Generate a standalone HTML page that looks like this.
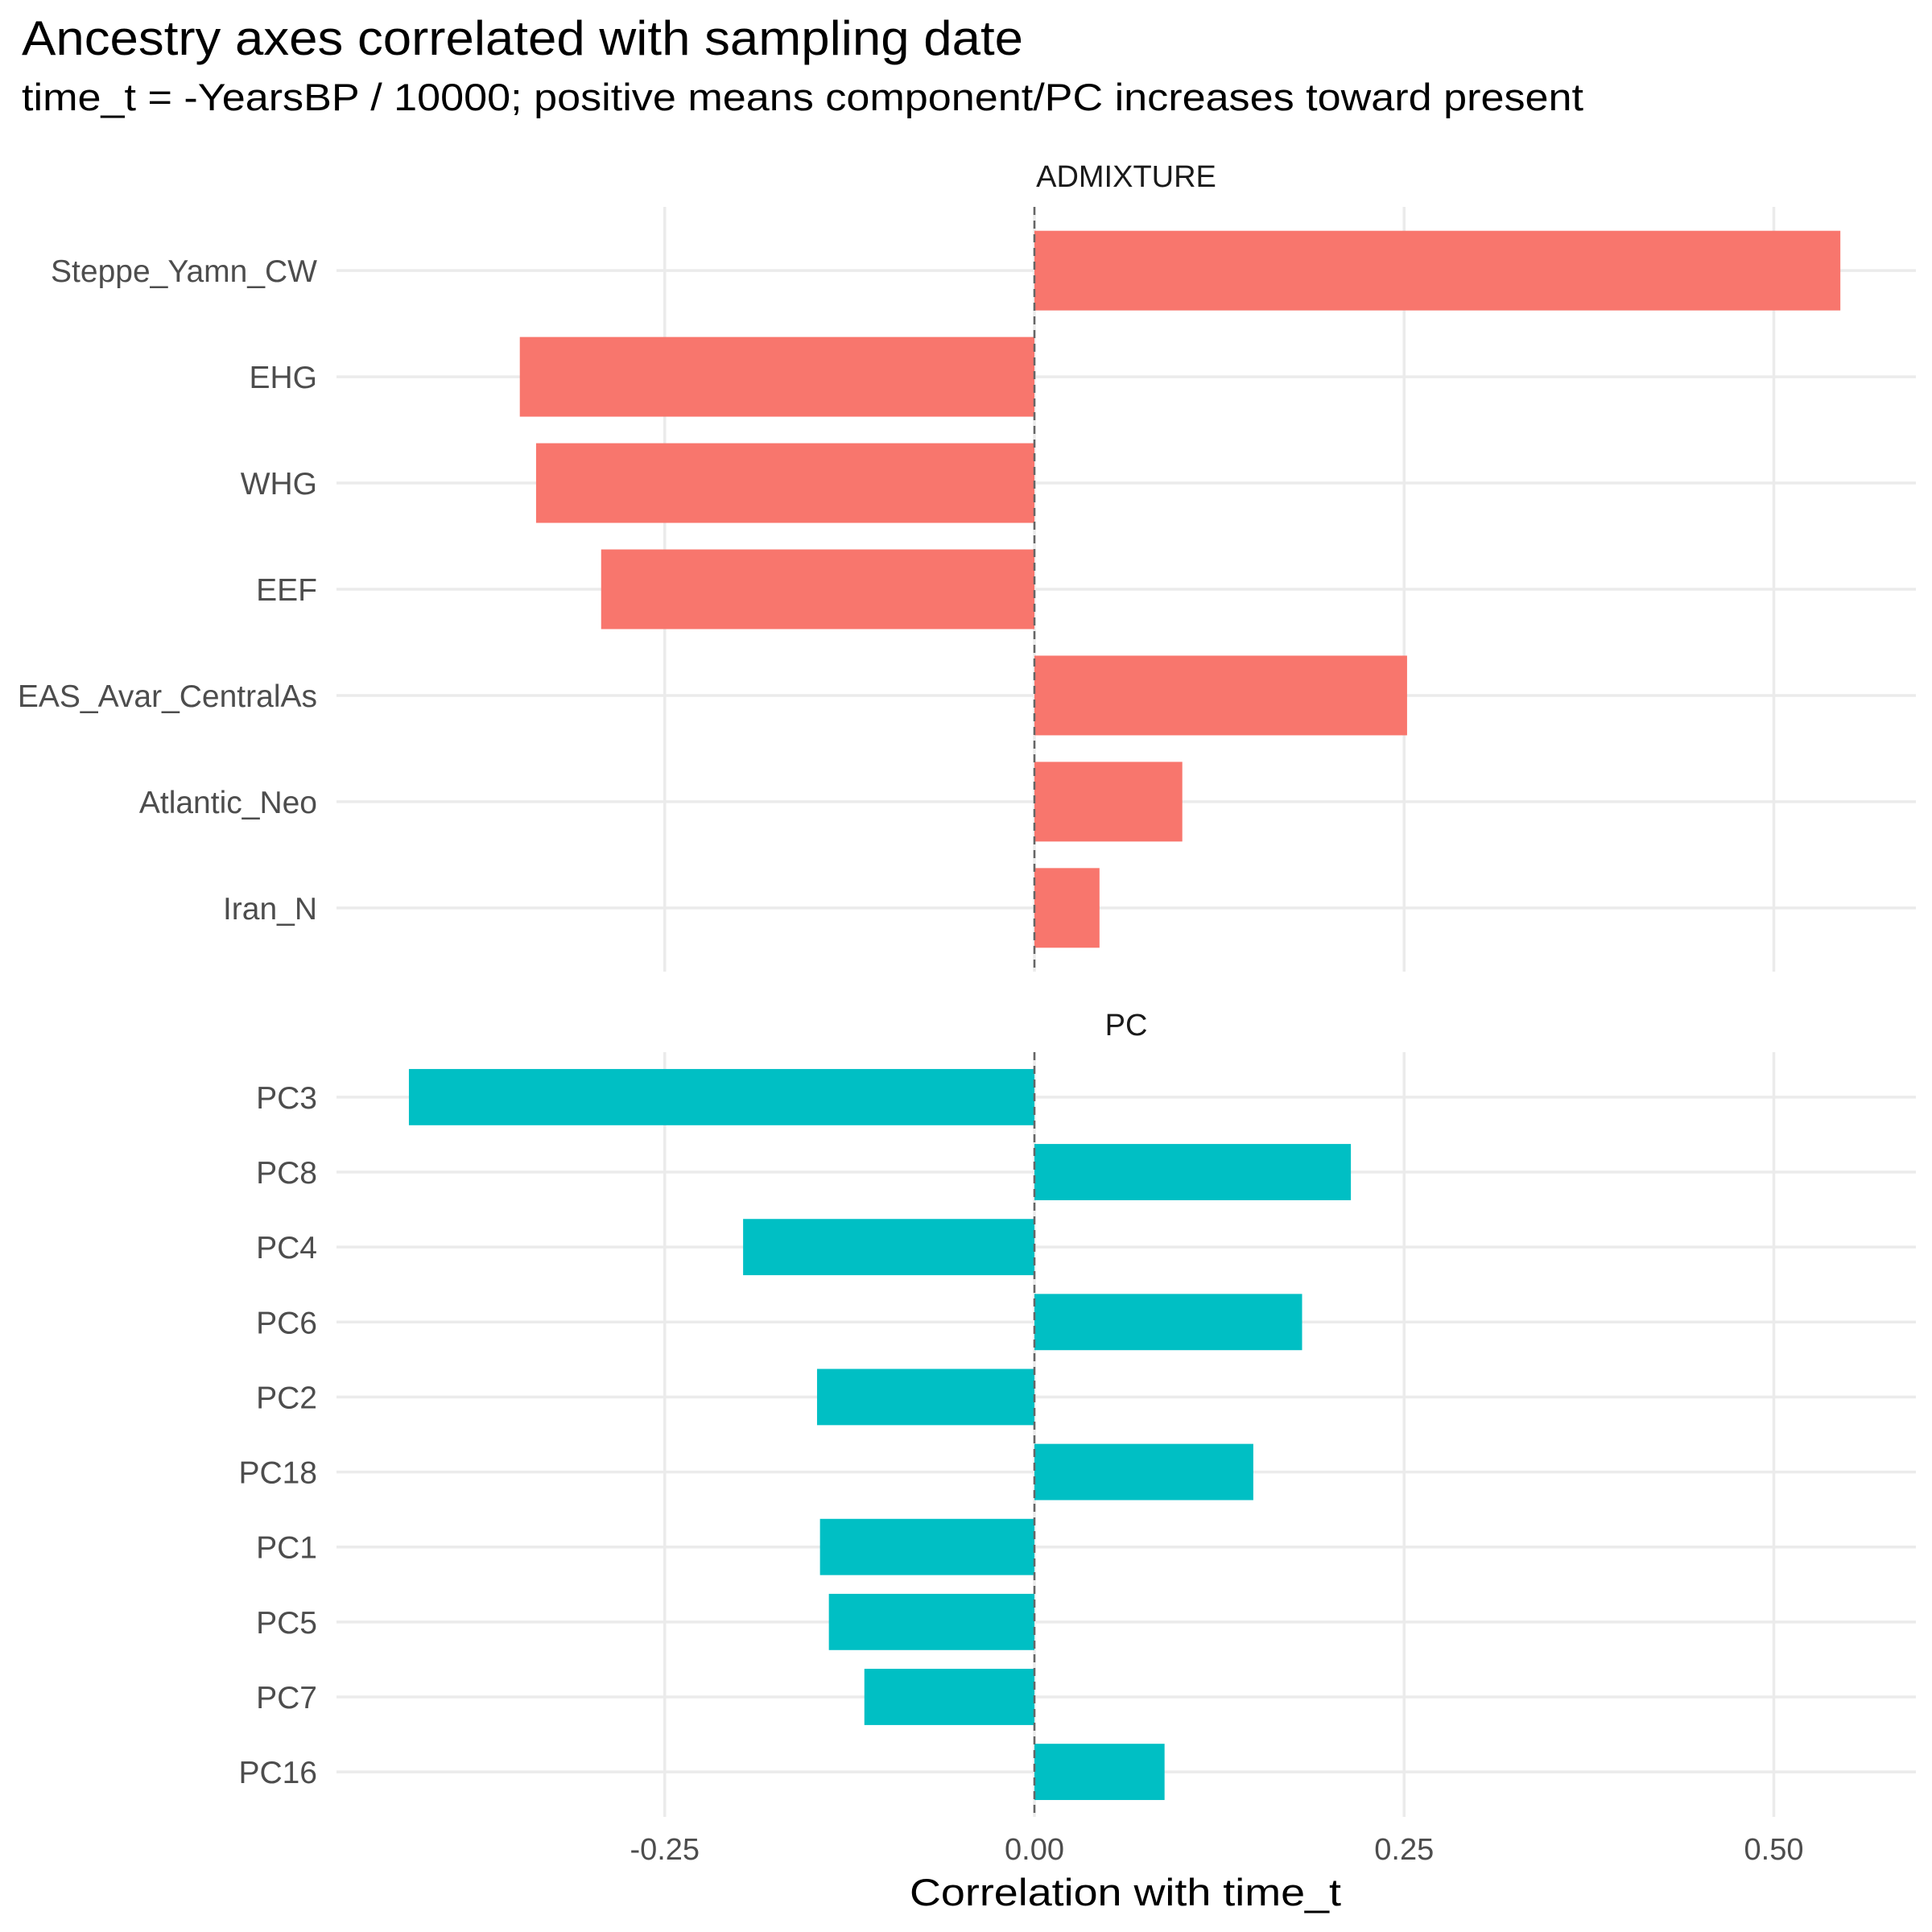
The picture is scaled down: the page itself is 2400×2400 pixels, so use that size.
<!DOCTYPE html>
<html><head><meta charset="utf-8"><style>
html,body{margin:0;padding:0;background:#fff;}
svg{display:block;font-family:"Liberation Sans",sans-serif;}
</style></head><body>
<svg id="chart" width="2400" height="2400" viewBox="0 0 2400 2400">
<text x="27" y="68" font-size="60" fill="#000" textLength="1244" lengthAdjust="spacingAndGlyphs">Ancestry axes correlated with sampling date</text>
<text x="27" y="137" font-size="47" fill="#000" textLength="1940" lengthAdjust="spacingAndGlyphs">time_t = -YearsBP / 10000; positive means component/PC increases toward present</text>
<g id="plot"></g>
<text x="1398" y="2367" font-size="47" fill="#000" text-anchor="middle" textLength="536" lengthAdjust="spacingAndGlyphs">Correlation with time_t</text>
</svg>
<script>
const admixCats = ["Steppe_Yamn_CW","EHG","WHG","EEF","EAS_Avar_CentralAs","Atlantic_Neo","Iran_N"];
const admixVals = [0.545,-0.348,-0.337,-0.293,0.252,0.100,0.044];
const pcCats = ["PC3","PC8","PC4","PC6","PC2","PC18","PC1","PC5","PC7","PC16"];
const pcVals = [-0.423,0.214,-0.197,0.181,-0.147,0.148,-0.145,-0.139,-0.115,0.088];
const xTicks = [-0.25,0,0.25,0.5];
const xTickLabels = ["-0.25","0.00","0.25","0.50"];
const panelNames = ["ADMIXTURE","PC"];

const NS="http://www.w3.org/2000/svg";
const g=document.getElementById('plot');
const X0=418, X1=2380;
function xs(v){return 1285+v*1837;}
function mk(tag,attrs){const e=document.createElementNS(NS,tag);for(const k in attrs)e.setAttribute(k,attrs[k]);g.appendChild(e);return e;}

function panel(cats,vals,top,bottom,color,stripName,stripY,pname){
  const n=cats.length;
  const step=(bottom-top)/(n-1+1.2);
  const ys=i=>top+step*(0.6+i);
  for(let i=0;i<xTicks.length;i++){
    const l=mk('line',{x1:xs(xTicks[i]),x2:xs(xTicks[i]),y1:top,y2:bottom,stroke:'#ebebeb','stroke-width':3.5});
    
    
  }
  for(let i=0;i<n;i++){
    const l=mk('line',{x1:X0,x2:X1,y1:ys(i),y2:ys(i),stroke:'#ebebeb','stroke-width':3.5});
    
    
  }
  const bh=step*0.75;
  for(let i=0;i<n;i++){
    const v=vals[i];
    const a=xs(Math.min(0,v)), b=xs(Math.max(0,v));
    const r=mk('rect',{x:a,y:ys(i)-bh/2,width:b-a,height:bh,fill:color});
    
    
    const t=mk('text',{x:394,y:ys(i)+14,'font-size':39,fill:'#4d4d4d','text-anchor':'end'});
    t.textContent=cats[i];
    
    
  }
  const z=mk('line',{x1:xs(0),x2:xs(0),y1:top,y2:bottom,stroke:'#666','stroke-width':2.5,'stroke-dasharray':'10,7'});
  
  
  const s=mk('text',{x:(X0+X1)/2,y:stripY,'font-size':38,fill:'#1a1a1a','text-anchor':'middle'});
  s.textContent=stripName;
  
  
}
panel(admixCats,admixVals,257,1207,'#F8766D',panelNames[0],232,'admixture');
panel(pcCats,pcVals,1307,2257,'#00BFC4',panelNames[1],1286,'pc');
for(let i=0;i<xTicks.length;i++){
  const t=mk('text',{x:xs(xTicks[i]),y:2310,'font-size':38,fill:'#4d4d4d','text-anchor':'middle'});
  t.textContent=xTickLabels[i];
  
  
}
</script>
</body></html>
